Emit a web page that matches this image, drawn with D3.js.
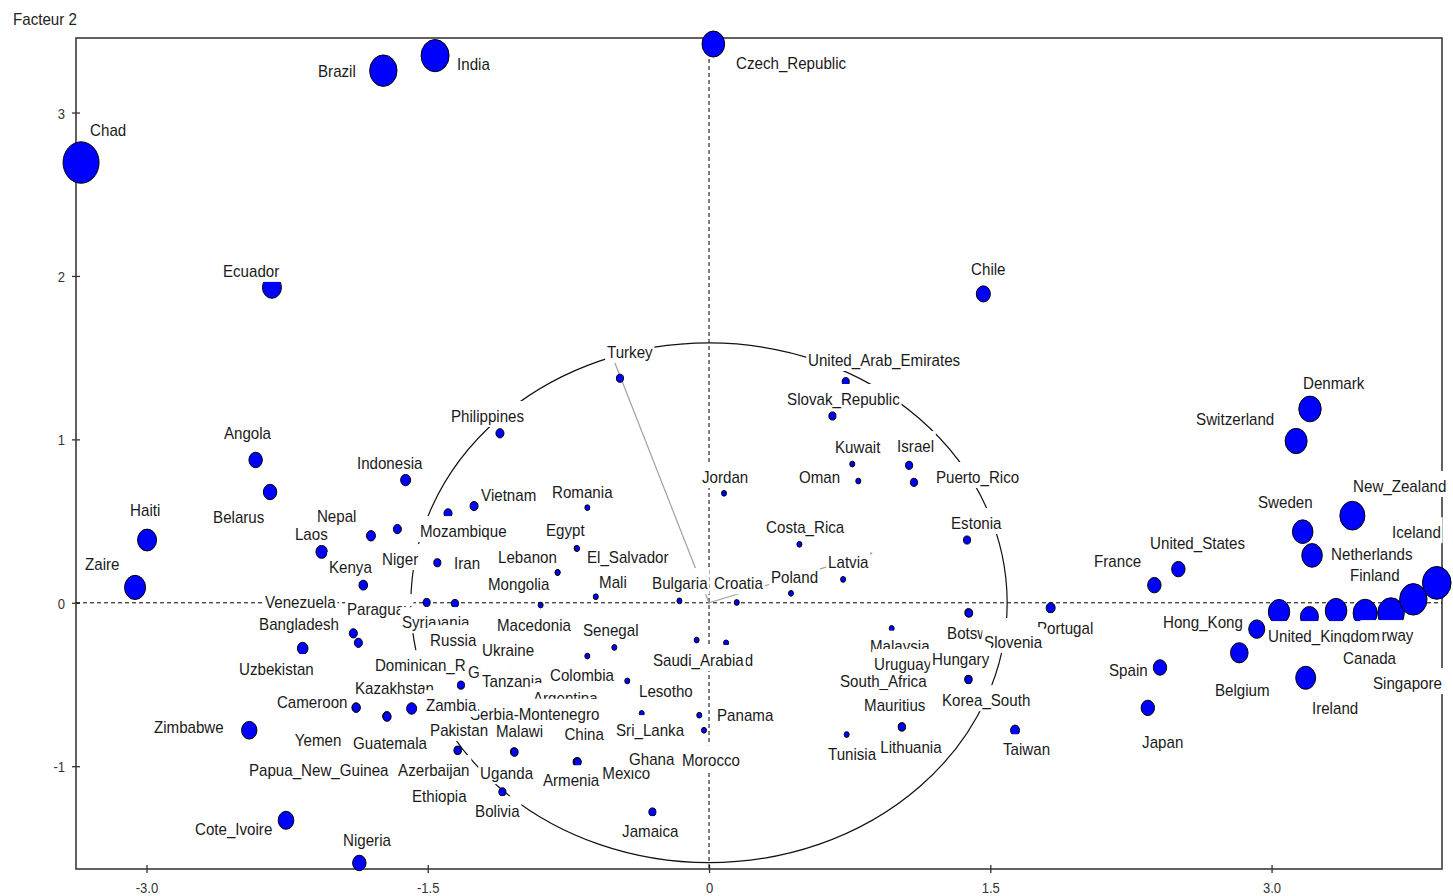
<!DOCTYPE html>
<html><head><meta charset="utf-8">
<script src="https://cdn.jsdelivr.net/npm/d3@7"></script>
<style>
body{margin:0;background:#fff}
svg{display:block}
text{font-family:"Liberation Sans",Arial,sans-serif}
</style>
</head><body>
<svg id="chart" width="1453" height="896"></svg>
<script>
// ---------------- data ----------------
const countries = [
"Chad","Brazil","India","Czech_Republic","Ecuador","Chile","Angola","Belarus","Haiti","Zaire",
"Nepal","Laos","Kenya","Niger","Indonesia","Turkey","Philippines","Vietnam","Mozambique","Iran",
"Romania","Egypt","El_Salvador","Lebanon","Mongolia","Mali","Bulgaria","Croatia","Jordan","United_Arab_Emirates",
"Slovak_Republic","Kuwait","Oman","Israel","Puerto_Rico","Estonia","Costa_Rica","Latvia","Poland","Denmark",
"Switzerland","New_Zealand","Sweden","Netherlands","Iceland","Finland","United_States","France","Hong_Kong","Belgium",
"Ireland","Germany","Norway","United_Kingdom","Canada","Singapore","Portugal","Spain","Japan","Taiwan",
"Botswana","Slovenia","Malaysia","South_Africa","Uruguay","Hungary","Korea_South","Mauritius","Lithuania","Tunisia",
"Thailand","Saudi_Arabia","Panama","Morocco","Jamaica","Sri_Lanka","Lesotho","Senegal","Colombia","Ukraine",
"Macedonia","Paraguay","Albania","Syria","Russia","Venezuela","Bangladesh","Uzbekistan","Dominican_Republic","Georgia",
"Tanzania","Kazakhstan","Zambia","Cameroon","Guatemala","Yemen","Papua_New_Guinea","Pakistan","Azerbaijan","Argentina",
"Malawi","China","Serbia-Montenegro","Uganda","Ethiopia","Bolivia","Armenia","Mexico","Ghana","Zimbabwe",
"Cote_Ivoire","Nigeria"
];
const factor1 = [
-3.349,-1.737,-1.461,0.023,-2.331,1.463,-2.418,-2.341,-2.997,-3.061,
-1.803,-2.066,-1.844,-1.662,-1.618,-0.475,-1.115,-1.253,-1.392,-1.449,
-0.649,-0.706,-0.704,-0.807,-0.808,-0.604,-0.158,0.148,0.080,0.729,
0.658,0.764,0.796,1.067,1.093,1.376,0.482,0.715,0.437,3.205,
3.131,3.431,3.166,3.216,3.881,3.756,2.503,2.375,2.921,2.828,
3.182,3.202,3.499,3.040,3.344,3.637,1.822,2.405,2.340,1.632,
1.383,1.387,0.974,0.912,1.019,1.383,1.384,1.028,1.029,0.734,
0.091,-0.066,-0.052,-0.027,-0.302,-0.359,-0.436,-0.505,-0.649,-1.061,
-0.898,-1.506,-1.408,-1.355,-1.381,-1.897,-1.870,-2.167,-1.323,-1.115,
-1.035,-1.719,-1.586,-1.883,-1.717,-1.881,-2.075,-1.340,-1.341,-0.795,
-1.040,-0.702,-0.955,-1.037,-1.435,-1.102,-0.706,-0.701,-0.315,-2.452,
-2.256,-1.865
];
const factor2 = [
2.694,3.256,3.348,3.419,1.930,1.890,0.874,0.678,0.384,0.094,
0.410,0.312,0.108,0.451,0.751,1.374,1.037,0.592,0.547,0.245,
0.582,0.333,0.332,0.186,0.185,0.037,0.012,0.002,0.670,1.353,
1.143,0.849,0.745,0.841,0.737,0.384,0.358,0.143,0.058,1.186,
0.990,0.533,0.435,0.290,0.122,0.021,0.206,0.108,-0.161,-0.306,
-0.459,-0.086,-0.063,-0.055,-0.049,-0.063,-0.031,-0.396,-0.643,-0.780,
-0.061,-0.063,-0.157,-0.473,-0.381,-0.469,-0.470,-0.759,-0.760,-0.806,
-0.245,-0.228,-0.688,-0.780,-1.280,-0.677,-0.478,-0.273,-0.326,-0.277,
-0.014,0.002,-0.106,-0.004,-0.228,-0.187,-0.245,-0.279,-0.504,-0.443,
-0.473,-0.694,-0.647,-0.641,-0.697,-0.642,-1.023,-0.902,-0.904,-0.596,
-0.912,-0.972,-0.667,-0.914,-1.184,-1.157,-0.974,-0.975,-0.963,-0.780,
-1.331,-1.592
];
const weight = [
52,30.1,31.5,20.5,14.5,7.9,7.2,7.2,14.5,17.7,
3.25,5.2,3.0,2.6,4.0,2.0,2.6,2.6,2.6,2.0,
1,1,1,1,1,1,1,1,1,2.0,
2.0,1,1,2.0,2.0,2.0,1,1,1,20.1,
19.4,25.1,17.0,17.0,32.8,30.1,7.2,7.2,10.3,12.4,
16.0,13.0,23.1,18.4,18.7,28.4,3.25,7.2,7.2,3.25,
2,2,1,1,1,2,2,2,2,1,
1,1,1,1,2,1,1,1,1,1,
1,2,1,2,1,2.6,2.6,4.5,2,1,
1,2.6,4.0,2.6,2.6,2.6,1,2,2,1,
2,2,1,2,1,2,2,2,1,9.5,
9.8,7.2
];
const xTicks = [-3.0, -1.5, 0, 1.5, 3.0];
const xTickLabels = ["-3.0", "-1.5", "0", "1.5", "3.0"];
const yTicks = [3, 2, 1, 0, -1];
const yTickLabels = ["3", "2", "1", "0", "-1"];
const yAxisTitle = "Facteur 2";
const circleRadius = 1.59;
const arrowF1 = [-0.53, 0.869];
const arrowF2 = [1.55, 0.304];

// ---------------- layout (label offsets in px from the point) ----------------
const labelOffsets = {
Chad:[9,-26.7], Brazil:[-65.3,6], India:[22,14], Czech_Republic:[22.7,24.7], Ecuador:[-49,-10.5], Chile:[-12.3,-19], Angola:[-31.7,-21], Belarus:[-57,31], Haiti:[-17,-24], Zaire:[-50,-17.3],
Nepal:[-54,-13.7], Laos:[-26.7,-11.7], Kenya:[-34.3,-12], Niger:[-15.3,36], Indonesia:[-48.7,-11], Turkey:[-13,-20.3], Philippines:[-49,-11.3], Vietnam:[7,-5], Mozambique:[-28,23.7], Iran:[16.7,6.3],
Romania:[-35.3,-9.7], Egypt:[-30.7,-12.3], El_Salvador:[10,14.5], Lebanon:[-59.7,-9.3], Mongolia:[-69.5,17.5], Mali:[3.3,-8.7], Bulgaria:[-27.3,-11.7], Croatia:[-22.7,-13.3], Jordan:[-22,-10.3], United_Arab_Emirates:[-37.7,-15.7],
Slovak_Republic:[-45.3,-11], Kuwait:[-17.3,-11], Oman:[-59.3,2], Israel:[-12,-13.3], Puerto_Rico:[22,0.7], Estonia:[-16,-11], Costa_Rica:[-33.3,-11.3], Latvia:[-15,-11.3], Poland:[-20,-10.3], Denmark:[-7,-20],
Switzerland:[-100,-16], New_Zealand:[0.7,-23.7], Sweden:[-44.7,-23.7], Netherlands:[19,4.7], Iceland:[-44.7,-44.7], Finland:[-63.3,-18.3], United_States:[-28.3,-20], France:[-60.3,-18], Hong_Kong:[-93.7,-1], Belgium:[-24.3,43.3],
Ireland:[6.3,36.3], Norway:[-3,28], United_Kingdom:[-11,30.3], Canada:[7,53.3], Singapore:[-18,76], Portugal:[-13.7,26.3], Spain:[-51,8.7], Japan:[-5.7,40.3], Taiwan:[-12,25],
Botswana:[-21.3,26.3], Slovenia:[15,35], Malaysia:[-21.7,23.2], South_Africa:[-40,7], Uruguay:[-26,5], Hungary:[-36.3,-14.3], Korea_South:[-26.5,26.5], Mauritius:[-37.7,-15.7], Lithuania:[-21.7,26.3], Tunisia:[-18.7,25.7],
Thailand:[-31,23.3], Saudi_Arabia:[-43.7,26], Panama:[17.7,6], Morocco:[-22,36], Jamaica:[-30.3,25.3], Sri_Lanka:[-25.7,22.7], Lesotho:[11.7,16.3], Senegal:[-31.3,-11.3], Colombia:[-37.3,25], Ukraine:[-28,8],
Macedonia:[-43.7,26], Paraguay:[-79.7,12.7], Albania:[-26,8], Syria:[-53,24.7], Russia:[-20,6], Venezuela:[-88.3,-25.3], Bangladesh:[-99.3,-12.7], Uzbekistan:[-63.7,26.7], Dominican_Republic:[-86,-14], Georgia:[-32,3],
Tanzania:[-33,7], Kazakhstan:[-31.7,-22], Zambia:[14.3,2.7], Cameroon:[-79,0.7], Guatemala:[-34,32.5], Yemen:[-61.5,38.5], Papua_New_Guinea:[-71,6], Pakistan:[-27.7,-14], Azerbaijan:[-59.5,25.5], Argentina:[-27,4],
Malawi:[-18,-14.5], China:[-13,-21.5], "Serbia-Montenegro":[-60,8], Uganda:[-34.5,27], Ethiopia:[-28,6], Bolivia:[-27.3,25.3], Armenia:[-33.7,24.3], Mexico:[24.7,17], Ghana:[-21,5], Zimbabwe:[-95.3,3],
Cote_Ivoire:[-91,15], Nigeria:[-16.3,-16.7]
};
// labels painted last (their white boxes sit above neighbouring labels)
const labelsOnTop = ["Nepal", "Ukraine", "Zambia"];

// ---------------- drawing ----------------
const svg = d3.select("#chart");
const x = d3.scaleLinear().domain([-3.376, 3.909]).range([76, 1442]);
const y = d3.scaleLinear().domain([-1.629, 3.456]).range([869, 38]);
const r = d3.scaleSqrt().domain([0, 52]).range([0, 18]);
const FONT = '"Liberation Sans", Arial, sans-serif';

// frame
svg.append("rect")
  .attr("x", x.range()[0]).attr("y", y.range()[1])
  .attr("width", x.range()[1] - x.range()[0])
  .attr("height", y.range()[0] - y.range()[1])
  .attr("fill", "none").attr("stroke", "#3a3a3a").attr("stroke-width", 1.6);

// axes
const gx = svg.append("g").attr("transform", `translate(0,${y.range()[0]})`)
  .call(d3.axisBottom(x).tickValues(xTicks).tickFormat((d, i) => xTickLabels[i]).tickSize(4));
gx.select(".domain").remove();
gx.attr("font-family", FONT).attr("font-size", 15);
gx.selectAll(".tick line").attr("y1", -4).attr("y2", 4).attr("stroke", "#333").attr("stroke-width", 1.3);
gx.selectAll(".tick text").attr("y", 0).attr("dy", null).attr("fill", "#333")
  .attr("transform", "translate(0,24) scale(0.87,1)");

const gy = svg.append("g").attr("transform", `translate(${x.range()[0]},0)`)
  .call(d3.axisLeft(y).tickValues(yTicks).tickFormat((d, i) => yTickLabels[i]).tickSize(4));
gy.select(".domain").remove();
gy.attr("font-family", FONT).attr("font-size", 15);
gy.selectAll(".tick line").attr("x1", -4).attr("x2", 4).attr("stroke", "#333").attr("stroke-width", 1.3);
gy.selectAll(".tick text").attr("x", 0).attr("dy", null).attr("fill", "#333")
  .attr("transform", "translate(-11,5.5) scale(0.87,1)");

// axis title
svg.append("text").attr("transform", "translate(13,25) scale(0.89,1)")
  .attr("font-size", 17).attr("fill", "#222").text(yAxisTitle);

// dashed zero lines
svg.append("line").attr("x1", x.range()[0]).attr("x2", x.range()[1])
  .attr("y1", y(0)).attr("y2", y(0))
  .attr("stroke", "#000").attr("stroke-width", 1).attr("stroke-dasharray", "4,3");
svg.append("line").attr("x1", x(0)).attr("x2", x(0))
  .attr("y1", y.range()[1]).attr("y2", y.range()[0])
  .attr("stroke", "#000").attr("stroke-width", 1).attr("stroke-dasharray", "4,3");

// correlation circle
svg.append("ellipse")
  .attr("cx", x(0)).attr("cy", y(0))
  .attr("rx", x(circleRadius) - x(0)).attr("ry", y(0) - y(circleRadius))
  .attr("fill", "none").attr("stroke", "#111").attr("stroke-width", 1.2);

// gray arrows
svg.append("defs").append("marker")
  .attr("id", "ah").attr("viewBox", "0 0 10 10").attr("refX", 9).attr("refY", 5)
  .attr("markerWidth", 9).attr("markerHeight", 9).attr("markerUnits", "userSpaceOnUse")
  .attr("orient", "auto")
  .append("path").attr("d", "M0,1 L10,5 L0,9 z").attr("fill", "#999");
arrowF1.forEach((a, i) => {
  svg.append("line")
    .attr("x1", x(0)).attr("y1", y(0))
    .attr("x2", x(a)).attr("y2", y(arrowF2[i]))
    .attr("stroke", "#a0a0a0").attr("stroke-width", 1.2)
    .attr("marker-end", "url(#ah)");
});

// bubbles
const order = d3.range(countries.length).sort((a, b) => factor1[a] - factor1[b]);
svg.append("g").selectAll("ellipse").data(order).join("ellipse")
  .attr("cx", i => x(factor1[i]))
  .attr("cy", i => y(factor2[i]))
  .attr("rx", i => r(weight[i]))
  .attr("ry", i => r(weight[i]) * 1.15)
  .attr("fill", "#0000ff").attr("stroke", "#000").attr("stroke-width", 1);

// labels with white boxes
const lab = svg.append("g");
const labelOrder = d3.range(countries.length)
  .filter(i => !labelsOnTop.includes(countries[i]))
  .concat(labelsOnTop.map(n => countries.indexOf(n)));
labelOrder.forEach(i => {
  const c = countries[i];
  const off = labelOffsets[c];
  if (!off) return;
  const px = x(factor1[i]) + off[0];
  const py = y(factor2[i]) + off[1];
  const g = lab.append("g").attr("transform", `translate(${px},${py}) scale(0.89,1)`);
  const box = g.append("rect").attr("fill", "#fff");
  const t = g.append("text").attr("font-size", 17).attr("fill", "#1a1a1a").text(c);
  const w = t.node().getComputedTextLength();
  box.attr("x", -2).attr("y", -21).attr("width", w + 4).attr("height", 26);
});
</script>
</body></html>
